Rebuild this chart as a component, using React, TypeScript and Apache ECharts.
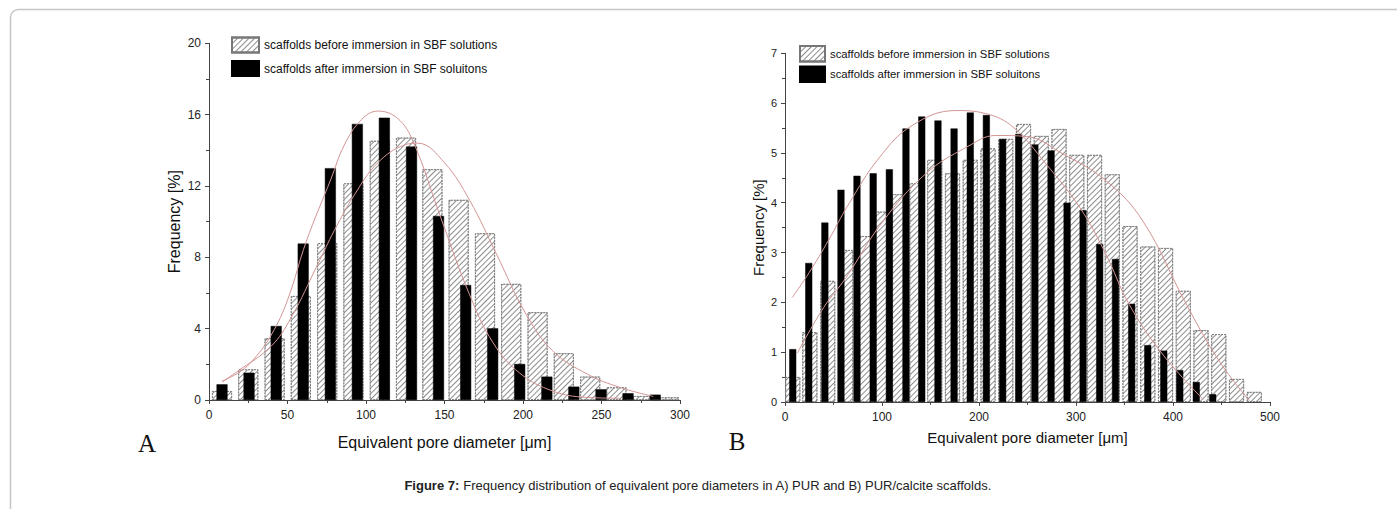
import React, { useEffect, useRef } from 'react';
import * as echarts from 'echarts';

const legendNames = [
  'scaffolds before immersion in SBF solutions',
  'scaffolds after immersion in SBF soluitons',
];

// Panel A (PUR)
const aBeforeX = [8.3, 25, 41.8, 58.5, 75.3, 92, 108.8, 125.5, 142.3, 159, 175.8, 192.5, 209.3, 226, 242.8, 259.5, 276.3, 293];
const aBeforeY = [0.5, 1.72, 3.46, 5.83, 8.79, 12.15, 14.53, 14.71, 12.94, 11.22, 9.35, 6.51, 4.92, 2.62, 1.31, 0.71, 0.22, 0.15];
const aAfterX = [8.3, 25.5, 42.8, 60, 77.3, 94.5, 111.7, 129, 146.2, 163.5, 180.7, 197.9, 215.2, 232.4, 249.7, 266.9, 284.2];
const aAfterY = [0.88, 1.53, 4.15, 8.77, 13.0, 15.48, 15.83, 14.21, 10.32, 6.45, 4.02, 2.02, 1.31, 0.75, 0.6, 0.38, 0.3];
const aFitBeforeX = [8.3, 18, 39.4, 52.2, 69.2, 79.8, 92.6, 107.5, 124.5, 133, 150, 166, 183, 202, 219, 241, 262, 283];
const aFitBeforeY = [1.0, 1.6, 3.0, 4.6, 7.6, 9.5, 11.5, 13.3, 14.3, 14.4, 13.3, 11.2, 8.2, 4.8, 2.75, 1.45, 0.7, 0.2];
const aFitAfterX = [8.3, 20, 28.7, 40, 50, 62, 77.7, 86.2, 96.9, 107.5, 120, 130, 146.9, 166, 181, 198, 219, 240, 262];
const aFitAfterY = [1.05, 1.6, 2.3, 3.7, 5.6, 8.9, 12.4, 14.3, 15.7, 16.2, 15.8, 14.5, 10.4, 5.9, 3.2, 1.5, 0.5, 0.15, 0.1];

// Panel B (PUR/calcite)
const bBeforeX = [8, 25.6, 44, 62.5, 81, 99.5, 117.8, 136, 154.4, 172.7, 191, 209.3, 227.6, 245.9, 264.2, 282.5, 300.8, 319.1, 337.4, 355.7, 374, 392.3, 410.6, 428.9, 447.2, 465.5, 483.8];
const bBeforeY = [0.5, 1.4, 2.43, 3.05, 3.33, 3.82, 4.17, 4.39, 4.86, 4.59, 4.86, 5.09, 5.28, 5.58, 5.34, 5.48, 4.96, 4.96, 4.57, 3.53, 3.12, 3.09, 2.23, 1.44, 1.36, 0.46, 0.2];
const bAfterX = [8, 24.5, 41.1, 57.7, 74.2, 90.9, 107.6, 124.7, 141, 157.7, 174.3, 191, 207.6, 224.4, 240.9, 257.6, 274.3, 290.8, 307.3, 324.4, 340.7, 357.4, 374, 390.5, 407, 424, 441];
const bAfterY = [1.06, 2.79, 3.6, 4.26, 4.54, 4.59, 4.67, 5.49, 5.73, 5.65, 5.49, 5.81, 5.76, 5.28, 5.38, 5.17, 5.05, 4.0, 3.85, 3.17, 2.87, 1.97, 1.14, 1.03, 0.64, 0.4, 0.155];
const bFitBeforeX = [12.7, 40, 62.7, 100, 145, 186.7, 217.6, 248.6, 286.5, 331, 369, 414, 448, 479];
const bFitBeforeY = [0.98, 1.9, 2.49, 3.6, 4.58, 5.11, 5.35, 5.33, 4.98, 4.44, 3.63, 1.95, 0.81, 0.02];
const bFitAfterX = [7.6, 25, 45, 65, 97, 131, 176, 207, 235, 269, 304, 330, 355, 390, 431];
const bFitAfterY = [2.1, 2.6, 3.25, 3.95, 4.9, 5.55, 5.85, 5.79, 5.52, 4.78, 3.9, 3.0, 1.95, 0.94, 0.05];

const zip = (xs: number[], ys: number[]) => xs.map((x, i) => [x, ys[i]]);

const FONT = 'Liberation Sans, Arial, sans-serif';
const AXIS_COLOR = '#444';
const FIT_COLOR = '#d49494';

const hatchDecal = {
  symbol: 'rect',
  symbolSize: 1,
  dashArrayX: [1, 0],
  dashArrayY: [1, 3],
  rotation: -Math.PI / 4,
  color: '#8c8c8c',
  backgroundColor: '#ffffff',
};

const hatchStyle = {
  color: '#ffffff',
  borderColor: '#777',
  borderWidth: 0.8,
  borderType: [2, 1],
  decal: hatchDecal,
};

function valueAxis(extra: any) {
  return {
    type: 'value',
    axisLine: { show: true, lineStyle: { color: AXIS_COLOR, width: 1 } },
    axisTick: { show: true, inside: false, length: 4, lineStyle: { color: AXIS_COLOR } },
    minorTick: { show: true, splitNumber: 2, length: 3, lineStyle: { color: AXIS_COLOR } },
    splitLine: { show: false },
    axisLabel: { color: '#222', fontFamily: FONT, fontSize: 12 },
    nameTextStyle: { color: '#111', fontFamily: FONT, fontSize: 16 },
    ...extra,
  };
}

export default function App() {
  const ref = useRef<HTMLDivElement>(null);

  useEffect(() => {
    if (!ref.current) return;
    const chart = echarts.init(ref.current, null, { renderer: 'svg' });
    const option: any = {
      animation: false,
      backgroundColor: '#ffffff',
      grid: [
        { left: 209, top: 43.3, width: 471, height: 356.7 },
        { left: 785, top: 53.3, width: 485, height: 348.6 },
      ],
      xAxis: [
        valueAxis({
          gridIndex: 0, min: 0, max: 300, interval: 50,
          name: 'Equivalent pore diameter [μm]', nameLocation: 'middle', nameGap: 34,
          axisLabel: { color: '#222', fontFamily: FONT, fontSize: 12, margin: 9 },
        }),
        { gridIndex: 0, type: 'value', min: 0, max: 300, show: false },
        valueAxis({
          gridIndex: 1, min: 0, max: 500, interval: 100,
          name: 'Equivalent pore diameter [μm]', nameLocation: 'middle', nameGap: 28,
          axisLabel: { color: '#222', fontFamily: FONT, fontSize: 12, margin: 9 },
          nameTextStyle: { color: '#111', fontFamily: FONT, fontSize: 15 },
        }),
        { gridIndex: 1, type: 'value', min: 0, max: 500, show: false },
      ],
      yAxis: [
        valueAxis({
          gridIndex: 0, min: 0, max: 20, interval: 4,
          name: 'Frequency [%]', nameLocation: 'middle', nameGap: 27,
        }),
        valueAxis({
          gridIndex: 1, min: 0, max: 7, interval: 1,
          name: 'Frequency [%]', nameLocation: 'middle', nameGap: 19,
          axisLabel: { color: '#222', fontFamily: FONT, fontSize: 11, margin: 8 },
          nameTextStyle: { color: '#111', fontFamily: FONT, fontSize: 15 },
        }),
      ],
      legend: [
        {
          data: legendNames, left: 231, top: 36.5, orient: 'vertical', padding: 0,
          itemWidth: 27, itemHeight: 15, itemGap: 6.6, icon: 'rect', selectedMode: false,
          textStyle: { fontSize: 12, fontFamily: FONT, color: '#111' },
        },
        {
          data: legendNames, left: 799, top: 45, orient: 'vertical', padding: 0,
          itemWidth: 25, itemHeight: 15.5, itemGap: 3, icon: 'rect', selectedMode: false,
          textStyle: { fontSize: 11.3, fontFamily: FONT, color: '#111' },
        },
      ],
      series: [
        {
          name: legendNames[0], type: 'bar', xAxisIndex: 0, yAxisIndex: 0,
          barWidth: 20, data: zip(aBeforeX, aBeforeY), itemStyle: hatchStyle,
        },
        {
          name: legendNames[1], type: 'bar', xAxisIndex: 1, yAxisIndex: 0,
          barWidth: 11, data: zip(aAfterX, aAfterY),
          itemStyle: { color: '#000', borderColor: '#000', borderWidth: 0.5 },
        },
        {
          name: 'fit A before', type: 'line', xAxisIndex: 0, yAxisIndex: 0, smooth: 0.4,
          symbol: 'none', data: zip(aFitBeforeX, aFitBeforeY),
          lineStyle: { color: FIT_COLOR, width: 1 },
        },
        {
          name: 'fit A after', type: 'line', xAxisIndex: 0, yAxisIndex: 0, smooth: 0.4,
          symbol: 'none', data: zip(aFitAfterX, aFitAfterY),
          lineStyle: { color: FIT_COLOR, width: 1 },
        },
        {
          name: legendNames[0], type: 'bar', xAxisIndex: 2, yAxisIndex: 1,
          barWidth: 15, data: zip(bBeforeX, bBeforeY), itemStyle: hatchStyle,
        },
        {
          name: legendNames[1], type: 'bar', xAxisIndex: 3, yAxisIndex: 1,
          barWidth: 7, data: zip(bAfterX, bAfterY),
          itemStyle: { color: '#000', borderColor: '#000', borderWidth: 0.5 },
        },
        {
          name: 'fit B before', type: 'line', xAxisIndex: 2, yAxisIndex: 1, smooth: 0.4,
          symbol: 'none', data: zip(bFitBeforeX, bFitBeforeY),
          lineStyle: { color: FIT_COLOR, width: 1 },
        },
        {
          name: 'fit B after', type: 'line', xAxisIndex: 2, yAxisIndex: 1, smooth: 0.4,
          symbol: 'none', data: zip(bFitAfterX, bFitAfterY),
          lineStyle: { color: FIT_COLOR, width: 1 },
        },
      ],
      graphic: [
        {
          type: 'rect', silent: true, z: -10,
          shape: { x: 10.5, y: 9.5, width: 1420, height: 540, r: 8 },
          style: { fill: 'none', stroke: '#c6c6c6', lineWidth: 1.5 },
        },
        {
          type: 'text', x: 147, y: 443, silent: true,
          style: { text: 'A', font: '25px "Liberation Serif", "Times New Roman", serif', fill: '#111', align: 'center', verticalAlign: 'middle' },
        },
        {
          type: 'text', x: 737, y: 441, silent: true,
          style: { text: 'B', font: '25px "Liberation Serif", "Times New Roman", serif', fill: '#111', align: 'center', verticalAlign: 'middle' },
        },
        {
          type: 'text', x: 698, y: 485, silent: true,
          style: {
            text: '{b|Figure 7:} Frequency distribution of equivalent pore diameters in A) PUR and B) PUR/calcite scaffolds.',
            align: 'center', verticalAlign: 'middle', fill: '#222',
            fontFamily: FONT, fontSize: 13,
            rich: { b: { fontWeight: 'bold', fontFamily: FONT, fontSize: 13, fill: '#222' } },
          },
        },
      ],
    };
    chart.setOption(option);
    return () => chart.dispose();
  }, []);

  return (
    <div
      ref={ref}
      style={{ position: 'absolute', left: 0, top: 0, width: 1397, height: 509, background: '#fff' }}
    />
  );
}
